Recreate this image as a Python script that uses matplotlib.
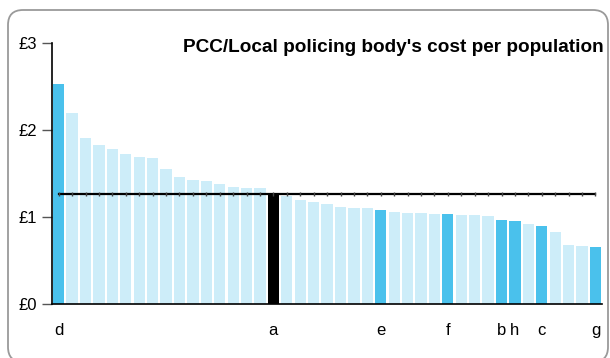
import matplotlib.pyplot as plt
from matplotlib.patches import FancyBboxPatch
import numpy as np

plt.rcParams['font.family'] = ['Liberation Sans', 'DejaVu Sans']

# cost per population (GBP), sorted descending
values = [2.53, 2.19, 1.91, 1.83, 1.78, 1.72, 1.69, 1.68, 1.55, 1.46,
          1.43, 1.41, 1.38, 1.35, 1.33, 1.33, 1.26, 1.24, 1.20, 1.17,
          1.15, 1.12, 1.10, 1.10, 1.08, 1.06, 1.04, 1.04, 1.03, 1.03,
          1.02, 1.02, 1.01, 0.96, 0.95, 0.92, 0.90, 0.83, 0.68, 0.67,
          0.65]
# highlighted forces: index -> label
labels = {0: 'd', 16: 'a', 24: 'e', 29: 'f', 33: 'b', 34: 'h', 36: 'c', 40: 'g'}
target = 16
average = 1.26

blue = '#4ac1ec'
light = '#cdedf9'

colors = []
for i in range(len(values)):
    if i == target:
        colors.append('black')
    elif i in labels:
        colors.append(blue)
    else:
        colors.append(light)

fig = plt.figure(figsize=(6.1, 3.58), dpi=100)
ax = fig.add_axes([0.0852, 0.151, 0.902, 0.729])

x = np.arange(len(values))
ax.bar(x, values, width=0.84, color=colors, zorder=2)
ax.plot(x, [average]*len(values), color='black', lw=1.6, marker='|',
        markersize=3, markeredgecolor='#444444', zorder=3)

ax.set_xlim(-0.5, len(values) - 0.5)
ax.set_ylim(0, 3)
ax.set_yticks([0, 1, 2, 3])
ax.set_yticklabels(['£0', '£1', '£2', '£3'], fontsize=12)
ax.tick_params(axis='y', length=7, width=1, color='#555555', pad=4)

xt = sorted(labels.keys())
ax.set_xticks(xt)
ax.set_xticklabels([labels[k] for k in xt], fontsize=12)
ax.tick_params(axis='x', length=0, pad=14)

for s in ['top', 'right']:
    ax.spines[s].set_visible(False)
ax.spines['left'].set_linewidth(1.2)
ax.spines['bottom'].set_linewidth(1.2)

fig.text(604/610, 1 - 52/358, "PCC/Local policing body's cost per population",
         ha='right', va='baseline', fontsize=13.7, fontweight='bold')

# rounded outer frame, drawn in pixel coordinates
frame = FancyBboxPatch((8, -4), 600, 352, transform=None,
                       boxstyle='round,pad=0,rounding_size=15',
                       fill=False, edgecolor='#9a9a9a', lw=1.3)
fig.patches.append(frame)

fig.savefig('out.png', dpi=100)
